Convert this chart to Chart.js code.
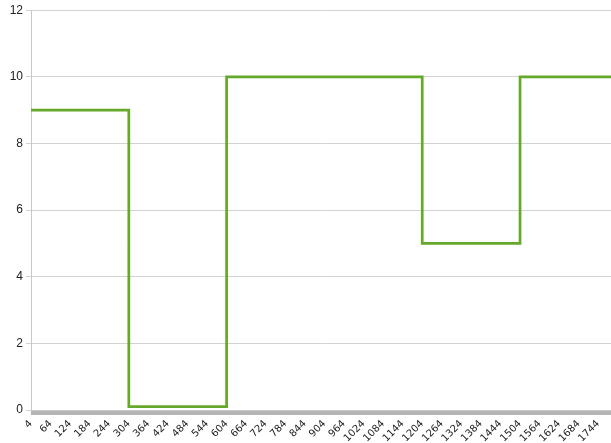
<!DOCTYPE html>
<html>
<head>
<meta charset="utf-8">
<script src="https://cdn.jsdelivr.net/npm/chart.js@4/dist/chart.umd.min.js"></script>
<style>
html,body{margin:0;padding:0;background:#fff;}
#wrap{width:611px;height:443px;position:relative;}
</style>
</head>
<body>
<div id="wrap"><canvas id="c"></canvas></div>
<script>
// Category range of the x axis (one category per unit)
const xFirst = 4;
const xLast = 1783;
const xLabelEvery = 60;
// Step series: change points (x) and level held up to each point
const stepX = [4, 304, 604, 1204, 1504, 1783];
const stepY = [9, 0.1, 10, 5, 10, 10];
// Y ticks
const yTicks = [0, 2, 4, 6, 8, 10, 12];

const categories = [];
for (let v = xFirst; v <= xLast; v++) categories.push(String(v));

const points = stepX.map((x, i) => ({ x: String(x), y: stepY[i] }));

new Chart(document.getElementById('c'), {
  type: 'line',
  data: {
    labels: categories,
    datasets: [{
      data: points,
      borderColor: '#65a92b',
      borderWidth: 2.7,
      pointRadius: 0,
      stepped: true,
      fill: false,
      tension: 0
    }]
  },
  options: {
    responsive: true,
    maintainAspectRatio: false,
    animation: false,
    layout: { padding: { top: 10, right: 0, left: 0, bottom: 0 } },
    plugins: { legend: { display: false }, tooltip: { enabled: false } },
    scales: {
      x: {
        type: 'category',
        offset: false,
        grid: { drawOnChartArea: false, color: '#b4b4b4', tickLength: 5, lineWidth: 1 },
        border: { color: '#c8c8c8' },
        ticks: {
          autoSkip: false,
          minRotation: 45,
          maxRotation: 45,
          padding: 3,
          color: '#222',
          font: { family: 'DejaVu Sans', size: 10 },
          callback: function (val, idx) {
            return (idx % xLabelEvery === 0) ? categories[idx] : '';
          }
        },
        afterFit: function (s) { s.height = 33; s.paddingRight = 0; s.paddingLeft = 0; }
      },
      y: {
        min: yTicks[0],
        max: yTicks[yTicks.length - 1],
        afterBuildTicks: function (s) { s.ticks = yTicks.map(v => ({ value: v })); },
        grid: { color: '#d2d2d2', tickLength: 5, lineWidth: 1 },
        border: { color: '#c8c8c8' },
        ticks: {
          padding: 3,
          color: '#222',
          font: { family: 'Liberation Sans', size: 12 }
        },
        afterFit: function (s) { s.width = 31; }
      }
    }
  }
});
</script>
</body>
</html>
